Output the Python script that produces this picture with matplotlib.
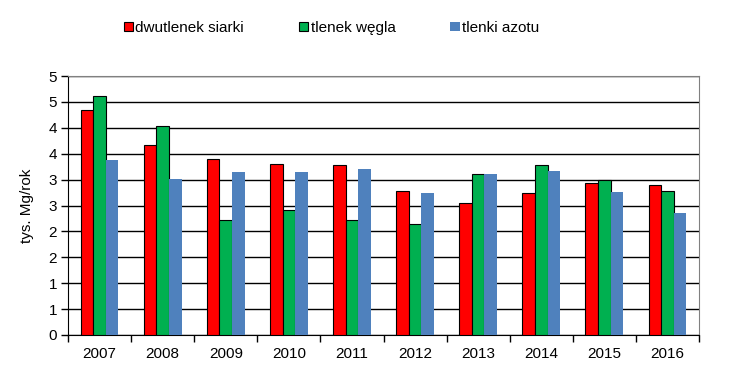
import numpy as np
import matplotlib.pyplot as plt
import matplotlib.ticker as mticker

# Data (thousand Mg per year)
years = ["2007", "2008", "2009", "2010", "2011", "2012", "2013", "2014", "2015", "2016"]
so2 = [4.34, 3.66, 3.40, 3.30, 3.28, 2.78, 2.54, 2.74, 2.94, 2.89]
co = [4.61, 4.04, 2.22, 2.41, 2.22, 2.14, 3.10, 3.28, 2.99, 2.78]
nox = [3.37, 3.01, 3.14, 3.15, 3.21, 2.74, 3.11, 3.17, 2.76, 2.36]
series_names = ["dwutlenek siarki", "tlenek węgla", "tlenki azotu"]
y_ticks = [0, 0.5, 1, 1.5, 2, 2.5, 3, 3.5, 4, 4.5, 5]
y_tick_labels = ["0", "1", "1", "2", "2", "3", "3", "4", "4", "5", "5"]

plt.rcParams['font.family'] = ['Liberation Sans', 'DejaVu Sans']

fig = plt.figure(figsize=(7.29, 3.76), dpi=100)
ax = fig.add_axes([68 / 729, 1 - 335 / 376, (699 - 68) / 729, (335 - 76) / 376])

x = np.arange(len(years))
w = 0.2
ax.bar(x - w, so2, w, color='#FF0000', edgecolor='black', linewidth=0.8,
       label=series_names[0], zorder=3)
ax.bar(x, co, w, color='#00B050', edgecolor='black', linewidth=0.8,
       label=series_names[1], zorder=3)
ax.bar(x + w, nox, w, color='#4F81BD', linewidth=0,
       label=series_names[2], zorder=3)

ax.set_xlim(-0.5, len(years) - 0.5)
ax.set_ylim(0, 5)

# y axis
ax.set_yticks(y_ticks)
ax.set_yticklabels(y_tick_labels, fontsize=11)
ax.yaxis.grid(True, color='black', linewidth=1, zorder=0)
ax.set_axisbelow(True)
ax.tick_params(axis='y', direction='out', length=5, width=1, pad=3)
ax.set_ylabel("tys. Mg/rok", fontsize=11, labelpad=10)

# x axis: labels at centres, ticks at category boundaries
ax.set_xticks(x)
ax.set_xticklabels(years, fontsize=11)
ax.xaxis.set_minor_locator(mticker.FixedLocator(np.arange(-0.5, len(years), 1)))
ax.tick_params(axis='x', which='major', length=0, pad=9)
ax.tick_params(axis='x', which='minor', direction='out', length=5, width=1)

for side in ['top', 'right']:
    ax.spines[side].set_color('#808080')
for side in ['left', 'bottom']:
    ax.spines[side].set_color('black')

fig.legend(loc='center left', bbox_to_anchor=(124 / 729, 1 - 28 / 376),
           ncol=3, frameon=False, fontsize=11, handlelength=0.6,
           handleheight=0.6, handletextpad=0.15, columnspacing=3.6,
           borderpad=0, borderaxespad=0)

fig.savefig("out.png", dpi=100)
